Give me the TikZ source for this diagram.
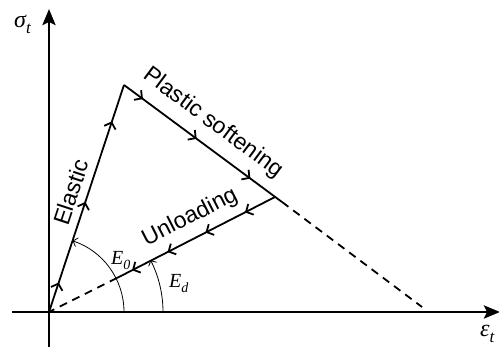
\documentclass[tikz,border=0pt]{standalone}
\usepackage[no-math]{fontspec}
\setmainfont{Liberation Sans}
\newfontfamily\serifit{Liberation Serif}
\usetikzlibrary{arrows.meta,decorations.markings}
\newcommand\flowtip{\arrow{Straight Barb[length=5.5pt,width=12pt]}}
\newcommand\symlab[4]{{\serifit\itshape\fontsize{#1}{#1}\selectfont #3\raisebox{-0.25em}{\fontsize{#2}{#2}\selectfont #4}}}
\begin{document}
\begin{tikzpicture}[x=1pt,y=1pt,
  axis/.style={line width=2.8pt,-{Stealth[length=16pt,width=13pt,inset=3pt]}},
  curve/.style={line width=1.8pt},
  dashline/.style={line width=1.8pt,dash pattern=on 8pt off 6pt},
  anglearc/.style={line width=0.8pt,-{Straight Barb[length=4pt,width=9pt]}},
  lbl/.style={font=\fontsize{23}{27}\selectfont,inner sep=0pt},
  mlbl/.style={inner sep=0pt},
  flowel/.style={postaction={decorate},decoration={markings,
     mark=at position 0.13 with {\flowtip},
     mark=at position 0.485 with {\flowtip},
     mark=at position 0.84 with {\flowtip}}},
  flowsoft/.style={postaction={decorate},decoration={markings,
     mark=at position 0.12 with {\flowtip},
     mark=at position 0.46 with {\flowtip},
     mark=at position 0.80 with {\flowtip}}},
  flowun/.style={postaction={decorate},decoration={markings,
     mark=at position 0.19 with {\flowtip},
     mark=at position 0.44 with {\flowtip},
     mark=at position 0.68 with {\flowtip},
     mark=at position 0.905 with {\flowtip}}}
]
\useasboundingbox (0,0) rectangle (499,347);
% key points
\coordinate (O) at (49,35);
\coordinate (P) at (124,262);
\coordinate (U) at (275,150);
\coordinate (S) at (282,145);
\coordinate (D) at (422,40);
\coordinate (Q) at (117,69);
\coordinate (Ybot) at (49,0);
\coordinate (Ytop) at (49,338);
\coordinate (Xl) at (12,35);
\coordinate (Xr) at (500,35);
% axes
\draw[axis] (Ybot) -- (Ytop);
\draw[axis] (Xl) -- (Xr);
% curves
\draw[curve,flowel] (O) -- (P);
\draw[curve,flowsoft] (P) -- (S);
\draw[dashline] (S) -- (D);
\draw[curve,flowun] (U) -- (Q);
\draw[dashline] (Q) -- (O);
% angle arcs
\draw[anglearc] (O) ++(75,0) arc[start angle=0,end angle=71.7,radius=75];
\draw[anglearc] (O) ++(114,0) arc[start angle=0,end angle=27,radius=114];
% labels
\node[mlbl,anchor=base west] (sig) at (14,319) {\symlab{24}{17}{σ}{t}};
\node[mlbl,anchor=base west] (eps) at (480,10) {\symlab{24}{17}{ε}{t}};
\node[mlbl,anchor=base west] (E0) at (111,82) {\symlab{20}{14}{E}{0}};
\node[mlbl,anchor=base west] (Ed) at (169,59) {\symlab{20}{14}{E}{d}};
\node[lbl,rotate=71.7] (el) at (71,155) {Elastic};
\node[lbl,rotate=-36.6] (ps) at (213,224) {Plastic softening};
\node[lbl,rotate=27] (ul) at (190,129.5) {Unloading};
\end{tikzpicture}
\end{document}
